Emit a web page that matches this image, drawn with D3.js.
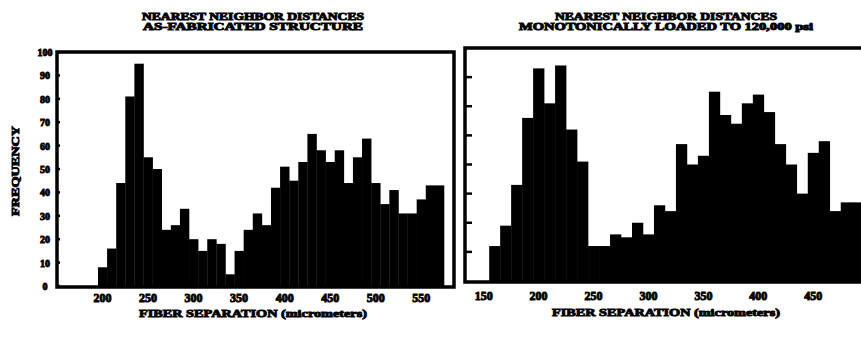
<!DOCTYPE html>
<html>
<head>
<meta charset="utf-8">
<style>
body { margin: 0; background: #fff; }
text {
  fill: #000;
  font-family: "Liberation Serif", "DejaVu Serif", serif;
  font-weight: bold;
}
.ink { stroke: #000; stroke-width: 0.9px; }
</style>
</head>
<body>
<script src="https://cdn.jsdelivr.net/npm/d3@7/dist/d3.min.js"></script>
<script>

// left panel: as-fabricated, bins centred every 10 micrometers
var leftBins = [200,210,220,230,240,250,260,270,280,290,300,310,320,330,340,350,360,370,380,390,
                400,410,420,430,440,450,460,470,480,490,500,510,520,530,540,550,560,570];
var leftFreq = [8,16,44,81,95,55,50,24,26,33,20,15,20,18,5,15,24,31,26,42,
                51,45,53,65,58,53,58,44,55,63,44,35,41,31,31,37,43,43];
var leftTicks = [200,250,300,350,400,450,500,550];
var leftYTicks = [0,10,20,30,40,50,60,70,80,90,100];

// right panel: monotonically loaded
var rightBins = [160,170,180,190,200,210,220,230,240,250,260,270,280,290,300,310,320,330,340,350,
                 360,370,380,390,400,410,420,430,440,450,460,470,480,490];
var rightFreq = [12,19,33,56,73,61,74,52,41,12,12,16,15,20,16,26,24,47,40,43,
                 65,57,54,61,64,58,47,40,30,44,48,24,27,27];
var rightTicks = [150,200,250,300,350,400,450];
var rightYTicks = [10,20,30,40,50,60,70];

var width = 861, height = 337;

var svg = d3.select("body").append("svg")
    .attr("width", width)
    .attr("height", height);

function panel(opt) {
  var x = d3.scaleLinear().domain(opt.xDomain).range([opt.left, opt.right]);
  var y = d3.scaleLinear().domain(opt.yDomain).range([opt.bottom, opt.top]);
  var g = svg.append("g");

  // bars
  g.selectAll("rect.bar")
      .data(opt.bins)
      .enter().append("rect")
      .attr("class", "bar")
      .attr("x", function(d) { return x(d - 5); })
      .attr("width", function(d) { return x(d + 5) - x(d - 5) + 0.3; })
      .attr("y", function(d, i) { return y(opt.freq[i]); })
      .attr("height", function(d, i) { return y(0) - y(opt.freq[i]); })
      .attr("fill", "#000");

  // frame
  g.append("path")
      .attr("d", "M" + opt.right + "," + (opt.top) + "L" + opt.left + "," + opt.top +
                 "L" + opt.left + "," + (opt.bottom + 1) + "L" + opt.right + "," + (opt.bottom + 1) +
                 (opt.closed ? "Z" : ""))
      .attr("fill", "none")
      .attr("stroke", "#000")
      .attr("stroke-width", 3.5);

  // small inward y ticks
  g.selectAll("line.ytick")
      .data(opt.yTicks)
      .enter().append("line")
      .attr("class", "ytick")
      .attr("x1", opt.left)
      .attr("x2", opt.left + opt.tickLen)
      .attr("y1", function(d) { return y(d); })
      .attr("y2", function(d) { return y(d); })
      .attr("stroke", "#000")
      .attr("stroke-width", 2.5);

  // x tick labels
  g.selectAll("text.xlab")
      .data(opt.ticks)
      .enter().append("text")
      .attr("class", "xlab ink")
      .attr("x", function(d) { return x(d); })
      .attr("y", opt.tickY)
      .attr("text-anchor", "middle")
      .style("font-size", "12px")
      .text(function(d) { return d; });

  // x axis title
  g.append("text")
      .attr("class", "ink")
      .attr("x", opt.titleX)
      .attr("y", opt.axisTitleY)
      .attr("text-anchor", "middle")
      .style("font-size", "11px")
      .attr("textLength", 228)
      .attr("lengthAdjust", "spacingAndGlyphs")
      .text("FIBER SEPARATION (micrometers)");

  // panel title, two lines
  opt.title.forEach(function(t, i) {
    g.append("text")
        .attr("class", "ink")
        .attr("x", opt.titleX)
        .attr("y", 20 + i * 10)
        .attr("text-anchor", "middle")
        .style("font-size", "10px")
        .attr("textLength", opt.titleLen[i])
        .attr("lengthAdjust", "spacingAndGlyphs")
        .text(t);
  });

  return {x: x, y: y};
}

var L = panel({
  bins: leftBins, freq: leftFreq, ticks: leftTicks, yTicks: leftYTicks,
  xDomain: [150, 586], yDomain: [0, 100],
  left: 57, right: 454, top: 52, bottom: 286,
  tickLen: 3, closed: true,
  tickY: 302, axisTitleY: 317,
  titleX: 253,
  title: ["NEAREST NEIGHBOR DISTANCES", "AS-FABRICATED STRUCTURE"],
  titleLen: [222, 220]
});

var R = panel({
  bins: rightBins, freq: rightFreq, ticks: rightTicks, yTicks: rightYTicks,
  xDomain: [133, 498], yDomain: [0, 80],
  left: 465, right: 866, top: 48, bottom: 281,
  tickLen: 7, closed: false,
  tickY: 300, axisTitleY: 316,
  titleX: 666,
  title: ["NEAREST NEIGHBOR DISTANCES", "MONOTONICALLY LOADED TO 120,000 psi"],
  titleLen: [222, 294]
});

// left y tick labels
svg.selectAll("text.ylab")
    .data(leftYTicks)
    .enter().append("text")
    .attr("class", "ylab ink")
    .attr("x", 45)
    .attr("y", function(d) { return L.y(d) + 4; })
    .attr("text-anchor", "middle")
    .style("font-size", "10px")
    .text(function(d) { return d; });

// y axis title
svg.append("text")
    .attr("class", "ink")
    .attr("transform", "translate(19,171) rotate(-90)")
    .attr("text-anchor", "middle")
    .style("font-size", "11px")
    .attr("textLength", 90)
    .attr("lengthAdjust", "spacingAndGlyphs")
    .text("FREQUENCY");

</script>
</body>
</html>
